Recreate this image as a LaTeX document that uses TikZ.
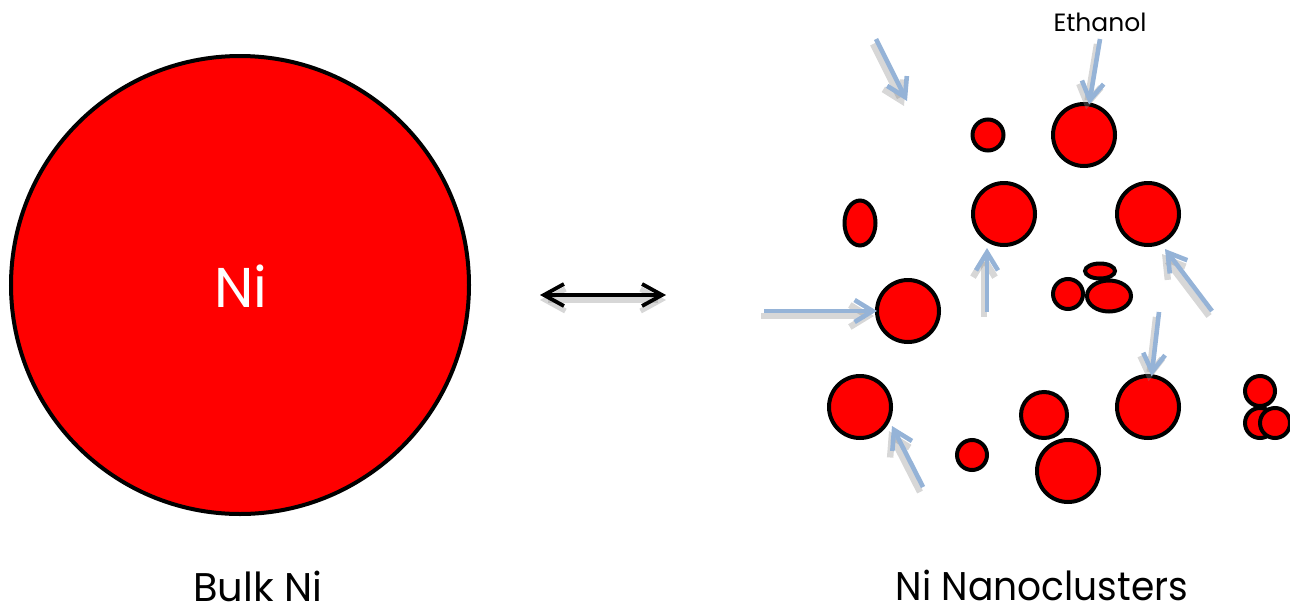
\documentclass[tikz,border=0pt]{standalone}
\usepackage{fontspec}
\setmainfont{Poppins}
\usetikzlibrary{arrows.meta,shapes.geometric}
\definecolor{nired}{HTML}{FF0000}
\definecolor{flowblue}{HTML}{95B3D7}
\definecolor{shadowgray}{HTML}{8C8C8C}
\tikzset{
  ball/.style={draw=black, fill=nired, line width=2pt, inner sep=0pt, outer sep=0pt},
  round ball/.style={ball, circle, minimum size=#1},
  oval ball/.style={ball, ellipse},
  flow/.style={draw=flowblue, line width=2.3pt, -{Straight Barb[length=9pt,width=11pt]}},
  flowshadow/.style={draw=shadowgray, opacity=0.35, line width=3.2pt,
     -{Straight Barb[length=9pt,width=11pt]}, transform canvas={shift={(-1.5pt,-2.5pt)}}},
  twoway/.style={draw=black, line width=1.9pt, {Straight Barb[length=10pt,width=11pt]}-{Straight Barb[length=10pt,width=11pt]}},
  twowayshadow/.style={draw=shadowgray, opacity=0.35, line width=2.6pt, {Straight Barb[length=10pt,width=11pt]}-{Straight Barb[length=10pt,width=11pt]}, transform canvas={shift={(0pt,-2.5pt)}}},
  label text/.style={font=\fontsize{20}{24}\selectfont, anchor=base, inner sep=0pt},
}
\begin{document}
\begin{tikzpicture}[x=0.5pt,y=-0.5pt]
\useasboundingbox (0,0) rectangle (1290,611);
% bulk
\node[round ball=229pt] (bulk) at (240,285) {};
\node[font=\fontsize{28}{32}\selectfont, text=white, anchor=base, inner sep=0pt] (nitext) at (241,307) {Ni};
\node[label text] (bulklabel) at (258,601) {Bulk Ni};
\node[label text] (nanolabel) at (1042,600) {\scalebox{0.94}[1]{Ni Nanoclusters}};
% two-way arrow
\coordinate (dl) at (540,295);
\coordinate (dr) at (666,295);
\draw[twowayshadow] (dl) -- (dr);
\draw[twoway] (dl) -- (dr);
% nanoclusters
\node[round ball=15.5pt] (s1) at (988,135) {};
\node[round ball=31pt] (b1) at (1084,135) {};
\node[oval ball, minimum width=15.5pt, minimum height=22.5pt] (e1) at (860,223) {};
\node[round ball=31pt] (b2) at (1004,214) {};
\node[round ball=31pt] (b3) at (1148,214) {};
\node[round ball=31pt] (b4) at (908,311) {};
\node[round ball=15pt] (c1) at (1068,294) {};
\node[oval ball, minimum width=22pt, minimum height=15.5pt] (c2) at (1109,296) {};
\node[oval ball, minimum width=15pt, minimum height=7.5pt] (c3) at (1100,271) {};
\node[round ball=31pt] (b5) at (860,407) {};
\node[round ball=23pt] (m1) at (1044,415) {};
\node[round ball=15pt] (s2) at (972,455) {};
\node[round ball=31pt] (b6) at (1068,471) {};
\node[round ball=31pt] (b7) at (1148,407) {};
\node[round ball=15pt] (r1) at (1260,391) {};
\node[round ball=15pt] (r2) at (1260,423) {};
\node[round ball=15pt] (r3) at (1275,423) {};
% ethanol label
\node[font=\fontsize{12.5}{15}\selectfont, anchor=base, inner sep=0pt] (eth) at (1100,31) {Ethanol};
% ethanol arrows
\coordinate (a1s) at (876,39);   \coordinate (a1e) at (907,101);
\coordinate (a2s) at (1100,39);
\coordinate (a3s) at (764,311);
\coordinate (a4s) at (987,312);  \coordinate (a4e) at (987,248);
\coordinate (a5s) at (1212,311); \coordinate (a5e) at (1165,249);
\coordinate (a6s) at (1159,312);
\coordinate (a7s) at (923,487);  \coordinate (a7e) at (892,426);
\foreach \s/\e in {a1s/a1e, a4s/a4e, a5s/a5e, a7s/a7e}{
  \draw[flowshadow] (\s) -- (\e);
  \draw[flow] (\s) -- (\e);
}
\draw[flowshadow] (a2s) -- (b1);
\draw[flow] (a2s) -- (b1);
\draw[flowshadow] (a3s) -- (b4);
\draw[flow] (a3s) -- (b4);
\draw[flowshadow] (a6s) -- (b7);
\draw[flow] (a6s) -- (b7);
\end{tikzpicture}
\end{document}
